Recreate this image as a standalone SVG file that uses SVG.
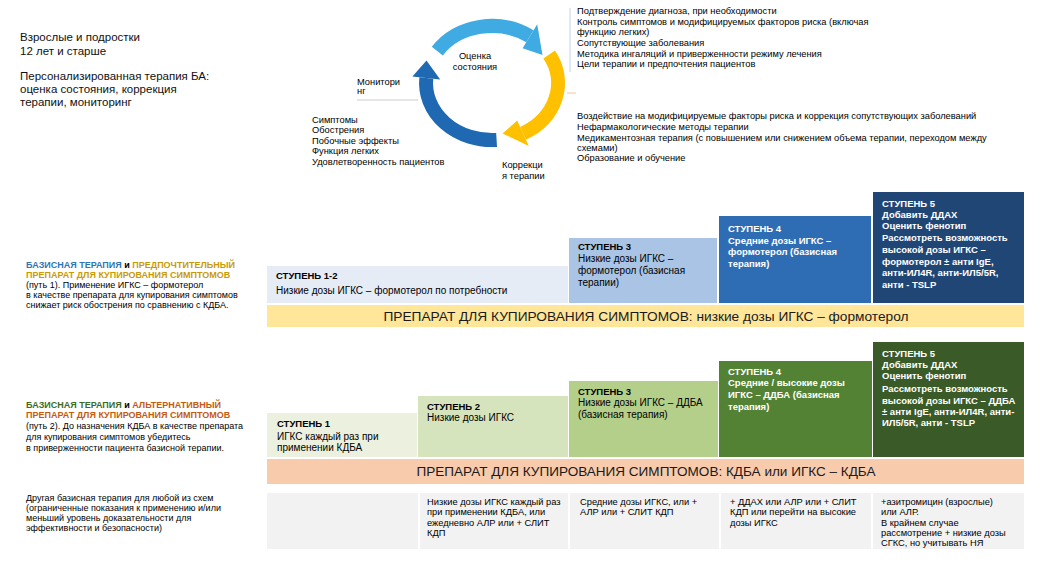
<svg xmlns="http://www.w3.org/2000/svg" width="1043" height="587" viewBox="0 0 1043 587">
<style>
text{font-family:"Liberation Sans",Arial,sans-serif;fill:#000}
.s{font-size:9.3px}
.s9{font-size:9px}
.m{font-size:10px}
.h{font-size:11.5px;fill:#111}
.b{font-weight:bold}
.w{fill:#fff;font-weight:bold;font-size:9.5px}
.hd{font-size:9.5px;font-weight:bold}
.bar{font-size:13px;fill:#1a1a1a}
.cell{fill:#f2f2f2}
.arc{fill:none;stroke-width:14;stroke-linecap:butt}
</style>
<rect width="1043" height="587" fill="#fff"/>

<g id="intro">
<text class="h" x="20" y="41">Взрослые и подростки</text>
<text class="h" x="20" y="55">12 лет и старше</text>
<text class="h" x="20" y="80">Персонализированная терапия БА:</text>
<text class="h" x="20" y="93">оценка состояния, коррекция</text>
<text class="h" x="20" y="106">терапии, мониторинг</text>
</g>

<g id="connectors">
<line x1="357" y1="100" x2="418" y2="100" stroke="#bfbfbf" stroke-width="0.8"/>
<line x1="570" y1="8" x2="570" y2="72" stroke="#b4c7e7" stroke-width="0.8"/>
<line x1="567" y1="93" x2="576" y2="93" stroke="#f4b183" stroke-width="0.8"/>
</g>

<g id="cycle">
<path class="arc" stroke="#40abe2" d="M437.3,51.1 A66,57 0 0 1 529.9,36.3"/>
<polygon fill="#40abe2" points="537.2,24.3 542.5,55 522.6,48.3"/>
<path class="arc" stroke="#ffc000" d="M549.2,54.5 A66,57 0 0 1 523,133.3"/>
<polygon fill="#ffc000" points="528.8,146.0 502.5,133.5 517.2,120.6"/>
<path class="arc" stroke="#1f69b3" d="M496.6,139.9 A66,57 0 0 1 426.3,78.0"/>
<polygon fill="#1f69b3" points="412.4,76.6 426.5,60.5 440.2,79.4"/>
</g>

<g id="assess">
<text class="s" x="475" y="59" text-anchor="middle">Оценка</text>
<text class="s" x="475" y="70" text-anchor="middle">состояния</text>
</g>
<g id="monitor">
<text class="s" x="357" y="85">Монитори</text>
<text class="s" x="357" y="94">нг</text>
</g>
<g id="monitor-list">
<text class="s" x="312" y="123">Симптомы</text>
<text class="s" x="312" y="133">Обострения</text>
<text class="s" x="312" y="144">Побочные эффекты</text>
<text class="s" x="312" y="154">Функция легких</text>
<text class="s" x="312" y="165">Удовлетворенность пациентов</text>
</g>
<g id="adjust">
<text class="s" x="502" y="168">Коррекци</text>
<text class="s" x="502" y="179">я терапии</text>
</g>
<g id="assess-list">
<text class="s" x="577" y="14">Подтверждение диагноза, при необходимости</text>
<text class="s" x="577" y="25">Контроль симптомов и модифицируемых факторов риска (включая</text>
<text class="s" x="577" y="35">функцию легких)</text>
<text class="s" x="577" y="46">Сопутствующие заболевания</text>
<text class="s" x="577" y="57">Методика ингаляций и приверженности режиму лечения</text>
<text class="s" x="577" y="67">Цели терапии и предпочтения пациентов</text>
</g>
<g id="adjust-list">
<text class="s" x="577" y="118.5">Воздействие на модифицируемые факторы риска и коррекция сопутствующих заболеваний</text>
<text class="s" x="577" y="129.5">Нефармакологические методы терапии</text>
<text class="s" x="577" y="140.5">Медикаментозная терапия (с повышением или снижением объема терапии,  переходом между</text>
<text class="s" x="577" y="150.5">схемами)</text>
<text class="s" x="577" y="160.5">Образование и обучение</text>
</g>

<g id="track1-label">
<text class="s9 b" x="26" y="268"><tspan fill="#2e75b6">БАЗИСНАЯ ТЕРАПИЯ</tspan> и <tspan fill="#c99a06">ПРЕДПОЧТИТЕЛЬНЫЙ</tspan></text>
<text class="s9 b" x="26" y="278" style="fill:#c99a06">ПРЕПАРАТ ДЛЯ КУПИРОВАНИЯ СИМПТОМОВ</text>
<text class="s9" x="26" y="288">(путь 1). Применение ИГКС –  формотерол</text>
<text class="s9" x="26" y="298">в качестве препарата для купирования симптомов</text>
<text class="s9" x="26" y="308">снижает риск обострения по сравнению с КДБА.</text>
</g>

<g id="t1-step12">
<rect x="267" y="266" width="301" height="37" fill="#e6ecf6"/>
<text class="hd" x="276" y="278.5">СТУПЕНЬ 1-2</text>
<text class="m" x="276" y="293.5">Низкие дозы ИГКС – формотерол по потребности</text>
</g>
<g id="t1-step3">
<rect x="569" y="238" width="148" height="65" fill="#a9c4e4"/>
<text class="hd" x="578" y="249.5">СТУПЕНЬ 3</text>
<text class="m" x="578" y="261.5">Низкие дозы ИГКС –</text>
<text class="m" x="578" y="274">формотерол (базисная</text>
<text class="m" x="578" y="286">терапии)</text>
</g>
<g id="t1-step4">
<rect x="719" y="216" width="152" height="87" fill="#2e6db4"/>
<text class="w" x="728" y="231.5">СТУПЕНЬ 4</text>
<text class="w" x="728" y="243.5">Средние дозы ИГКС  –</text>
<text class="w" x="728" y="254.5">формотерол (базисная</text>
<text class="w" x="728" y="266.5">терапия)</text>
</g>
<g id="t1-step5">
<rect x="873" y="192" width="151" height="111" fill="#204676"/>
<text class="w" x="882" y="206.5">СТУПЕНЬ 5</text>
<text class="w" x="882" y="217.5">Добавить ДДАХ</text>
<text class="w" x="882" y="228.5">Оценить фенотип</text>
<text class="w" x="882" y="240.5">Рассмотреть возможность</text>
<text class="w" x="882" y="252.5">высокой дозы ИГКС –</text>
<text class="w" x="882" y="264.5">формотерол ± анти IgE,</text>
<text class="w" x="882" y="275.5">анти-ИЛ4R, анти-ИЛ5/5R,</text>
<text class="w" x="882" y="287.5">анти - TSLP</text>
</g>
<g id="t1-reliever">
<rect x="267" y="305" width="757" height="22" fill="#ffe699"/>
<text class="bar" x="646" y="320.5" text-anchor="middle" textLength="525" lengthAdjust="spacingAndGlyphs">ПРЕПАРАТ ДЛЯ КУПИРОВАНИЯ СИМПТОМОВ: низкие дозы ИГКС – формотерол</text>
</g>

<g id="track2-label">
<text class="s9 b" x="26" y="408"><tspan fill="#3d6b1e">БАЗИСНАЯ ТЕРАПИЯ</tspan> и <tspan fill="#c55a11">АЛЬТЕРНАТИВНЫЙ</tspan></text>
<text class="s9 b" x="26" y="418" style="fill:#c55a11">ПРЕПАРАТ ДЛЯ КУПИРОВАНИЯ СИМПТОМОВ</text>
<text class="s9" x="26" y="429">(путь 2). До назначения КДБА в качестве препарата</text>
<text class="s9" x="26" y="439.5">для купирования симптомов убедитесь</text>
<text class="s9" x="26" y="450.5">в приверженности пациента базисной терапии.</text>
</g>

<g id="t2-step1">
<rect x="267" y="413" width="150" height="44" fill="#ebf1de"/>
<text class="hd" x="277" y="426.5">СТУПЕНЬ 1</text>
<text class="m" x="277" y="439.5">ИГКС каждый раз при</text>
<text class="m" x="277" y="450.5">применении КДБА</text>
</g>
<g id="t2-step2">
<rect x="418" y="396" width="150" height="61" fill="#d6e4bd"/>
<text class="hd" x="427" y="409.5">СТУПЕНЬ 2</text>
<text class="m" x="427" y="420.5">Низкие дозы ИГКС</text>
</g>
<g id="t2-step3">
<rect x="569" y="381" width="149" height="76" fill="#b4cf8a"/>
<text class="hd" x="578" y="394.5">СТУПЕНЬ 3</text>
<text class="m" x="578" y="405.5">Низкие дозы ИГКС – ДДБА</text>
<text class="m" x="578" y="417.5">(базисная терапия)</text>
</g>
<g id="t2-step4">
<rect x="719" y="361" width="153" height="96" fill="#548235"/>
<text class="w" x="728" y="374.5">СТУПЕНЬ 4</text>
<text class="w" x="728" y="385.5">Средние / высокие дозы</text>
<text class="w" x="728" y="397.5">ИГКС –  ДДБА (базисная</text>
<text class="w" x="728" y="409.5">терапия)</text>
</g>
<g id="t2-step5">
<rect x="873" y="342" width="151" height="115" fill="#3a5a27"/>
<text class="w" x="882" y="356.5">СТУПЕНЬ 5</text>
<text class="w" x="882" y="367.5">Добавить ДДАХ</text>
<text class="w" x="882" y="378.5">Оценить фенотип</text>
<text class="w" x="882" y="391.5">Рассмотреть возможность</text>
<text class="w" x="882" y="403.5">высокой дозы ИГКС –  ДДБА</text>
<text class="w" x="882" y="414.5">± анти IgE, анти-ИЛ4R, анти-</text>
<text class="w" x="882" y="425.5">ИЛ5/5R, анти - TSLP</text>
</g>
<g id="t2-reliever">
<rect x="267" y="459" width="757" height="25" fill="#f8cbad"/>
<text class="bar" x="646" y="475.5" text-anchor="middle" textLength="459" lengthAdjust="spacingAndGlyphs">ПРЕПАРАТ ДЛЯ КУПИРОВАНИЯ СИМПТОМОВ: КДБА или ИГКС – КДБА</text>
</g>

<g id="other-label">
<text class="s9" x="26" y="501">Другая базисная терапия для любой из схем</text>
<text class="s9" x="26" y="511">(ограниченные показания к применению и/или</text>
<text class="s9" x="26" y="521">меньший уровень доказательности для</text>
<text class="s9" x="26" y="530.5">эффективности и безопасности)</text>
</g>
<g id="other-1"><rect class="cell" x="267" y="493" width="151" height="56"/></g>
<g id="other-2">
<rect class="cell" x="420" y="493" width="148" height="56"/>
<text class="s" x="427" y="505">Низкие дозы ИГКС каждый раз</text>
<text class="s" x="427" y="515">при применении КДБА, или</text>
<text class="s" x="427" y="525.5">ежедневно АЛР или + СЛИТ</text>
<text class="s" x="427" y="536">КДП</text>
</g>
<g id="other-3">
<rect class="cell" x="570" y="493" width="149" height="56"/>
<text class="s" x="580" y="505">Средние дозы ИГКС, или +</text>
<text class="s" x="580" y="515">АЛР или + СЛИТ КДП</text>
</g>
<g id="other-4">
<rect class="cell" x="721" y="493" width="150" height="56"/>
<text class="s" x="730" y="505">+ ДДАХ или АЛР или + СЛИТ</text>
<text class="s" x="730" y="515">КДП или перейти на высокие</text>
<text class="s" x="730" y="525.5">дозы ИГКС</text>
</g>
<g id="other-5">
<rect class="cell" x="873" y="493" width="151" height="56"/>
<text class="s" x="881" y="505">+азитромицин (взрослые)</text>
<text class="s" x="881" y="515">или АЛР.</text>
<text class="s" x="881" y="525.5">В крайнем случае</text>
<text class="s" x="881" y="536">рассмотрение + низкие дозы</text>
<text class="s" x="881" y="546">СГКС, но учитывать НЯ</text>
</g>
</svg>
